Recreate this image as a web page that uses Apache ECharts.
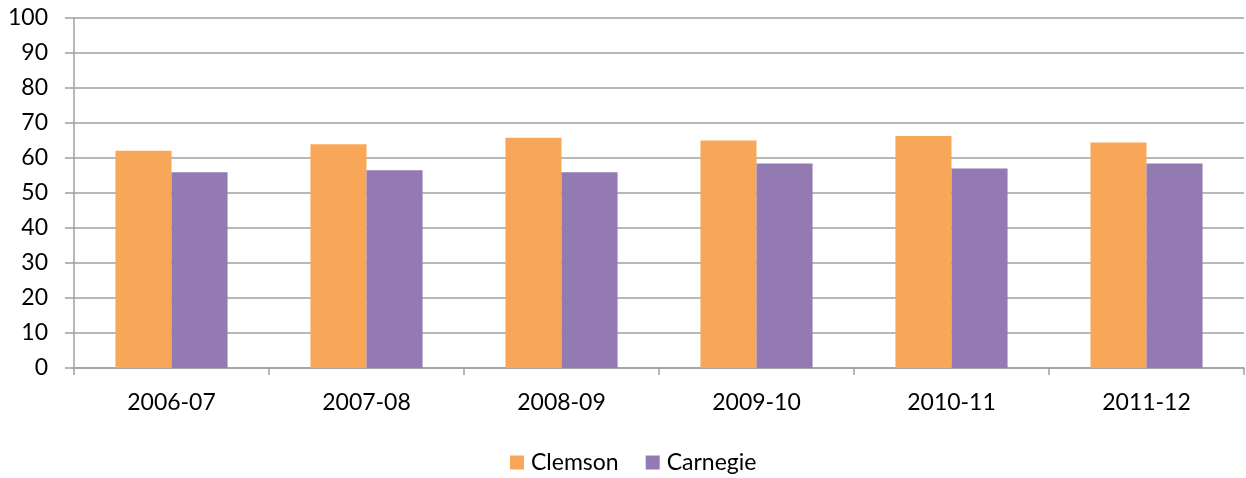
<!DOCTYPE html>
<html>
<head>
<meta charset="utf-8">
<script src="https://cdn.jsdelivr.net/npm/echarts@6/dist/echarts.min.js"></script>
<style>
html,body{margin:0;padding:0;background:#fff;}
#chart{width:1246px;height:478px;}
</style>
</head>
<body>
<div id="chart"></div>
<script>
const categories = ['2006-07','2007-08','2008-09','2009-10','2010-11','2011-12'];
const clemson = [62.1, 63.9, 65.8, 65.0, 66.3, 64.4];
const carnegie = [55.9, 56.5, 55.9, 58.4, 57.0, 58.4];
const seriesNames = ['Clemson','Carnegie'];

const FONT = 'Lato';
const FS = 23;
const chart = echarts.init(document.getElementById('chart'), null, {renderer:'canvas'});
chart.setOption({
  animation: false,
  backgroundColor: '#ffffff',
  textStyle: {fontFamily: FONT},
  grid: {left: 74, right: 2, top: 18, bottom: 110, containLabel: false},
  legend: {
    data: seriesNames,
    left: 510, top: 451, padding: 0,
    itemWidth: 14, itemHeight: 14, itemGap: 27,
    icon: 'rect',
    textStyle: {fontFamily: FONT, fontSize: FS, color: '#000', padding: [0,0,0,2]}
  },
  xAxis: {
    type: 'category',
    data: categories,
    boundaryGap: true,
    axisLine: {show: true, lineStyle: {color: '#a0a0a0', width: 1.5}},
    axisTick: {show: true, length: 7, alignWithLabel: false, lineStyle: {color: '#a0a0a0', width: 1.5}},
    axisLabel: {fontFamily: FONT, fontSize: FS, color: '#000', margin: 23}
  },
  yAxis: {
    type: 'value',
    min: 0, max: 100, interval: 10,
    axisLine: {show: true, lineStyle: {color: '#a0a0a0', width: 1.5}},
    axisTick: {show: true, length: 9, lineStyle: {color: '#a0a0a0', width: 1.5}},
    splitLine: {show: true, lineStyle: {color: '#a0a0a0', width: 1.5}},
    axisLabel: {fontFamily: FONT, fontSize: FS, color: '#000', margin: 26}
  },
  series: [
    {name: seriesNames[0], type: 'bar', data: clemson, barGap: '0%', barCategoryGap: '42.5%',
     itemStyle: {color: '#F8A657'}},
    {name: seriesNames[1], type: 'bar', data: carnegie, barGap: '0%', barCategoryGap: '42.5%',
     itemStyle: {color: '#937AB2'}}
  ]
});
</script>
</body>
</html>
